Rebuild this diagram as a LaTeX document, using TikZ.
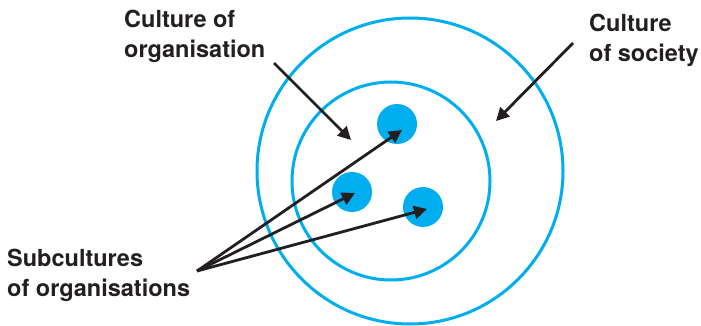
\documentclass[tikz,border=0pt]{standalone}
\usepackage{fontspec}
\setmainfont{TeX Gyre Heros}
\usetikzlibrary{arrows.meta}
\definecolor{ringblue}{HTML}{00AEEF}
\definecolor{inkblack}{HTML}{231F20}

\begin{document}
\begin{tikzpicture}[x=1pt,y=-1pt,
		ring/.style={draw=ringblue, line width=3pt},
		blob/.style={circle, fill=ringblue, minimum size=40pt, inner sep=0pt},
		pointer/.style={draw=inkblack, line width=2.8pt, -{Triangle[length=13pt,width=13pt]}},
		caption/.style={font=\fontsize{23.5}{30}\selectfont\bfseries, text=inkblack, align=left, anchor=north west, inner sep=0pt}]
	
	\useasboundingbox (0,0) rectangle (701,326);
	
	\draw[ring] (410,171) circle (153);
	\draw[ring] (391,181) circle (99);
	
	\node[blob] (sub1) at (397,124) {};
	\node[blob] (sub2) at (352,192) {};
	\node[blob] (sub3) at (423,207) {};
	
	\node[caption] (org) at (124,10) {Culture of\\organisation};
	\node[caption] (soc) at (589,14) {Culture\\of society};
	\node[caption] (subs) at (7,249) {Subcultures\\of organisations};
	
	\coordinate (orgstart) at (274,63);
	\coordinate (orgtip) at (351,140);
	\coordinate (socstart) at (573,43);
	\coordinate (soctip) at (496,121);
	\coordinate (subsstart) at (197,271);
	
	\draw[pointer] (orgstart) -- (orgtip);
	\draw[pointer] (socstart) -- (soctip);
	\draw[pointer] (subsstart) -- ([shift={(5pt,-6pt)}]sub1.center);
	\draw[pointer] (subsstart) -- ([shift={(3pt,-1pt)}]sub2.center);
	\draw[pointer] (subsstart) -- ([shift={(4pt,-2pt)}]sub3.center);
\end{tikzpicture}
\end{document}
